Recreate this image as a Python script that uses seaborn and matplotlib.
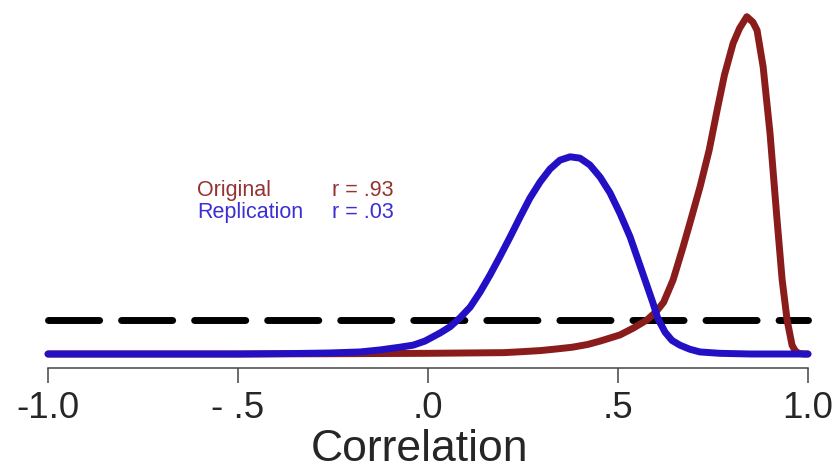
import pandas as pd
import seaborn as sns
import matplotlib.pyplot as plt

# === Curves (correlation vs density) ===
orig_r = [-1.0, -0.5, -0.2, 0.0, 0.1, 0.2, 0.25, 0.295, 0.34, 0.38, 0.42, 0.453, 0.505,
          0.54, 0.576, 0.60, 0.62, 0.645, 0.671, 0.69, 0.716, 0.74, 0.761, 0.78, 0.803,
          0.82, 0.839, 0.855, 0.866, 0.882, 0.90, 0.918, 0.932, 0.945, 0.958, 0.966,
          0.975, 0.99, 1.0]
orig_dens = [0.0, 0.0, 0.005, 0.01, 0.015, 0.02, 0.035, 0.05, 0.075, 0.10, 0.14, 0.19, 0.28,
             0.38, 0.50, 0.62, 0.76, 1.09, 1.57, 1.94, 2.46, 3.00, 3.59, 4.10, 4.57,
             4.79, 4.96, 4.88, 4.76, 4.22, 3.25, 2.01, 1.09, 0.50, 0.13, 0.05,
             0.01, 0.0, 0.0]

repl_r = [-1.0, -0.5, -0.34, -0.26, -0.179, -0.126, -0.074, -0.039, -0.008, 0.032,
          0.058, 0.084, 0.111, 0.137, 0.163, 0.189, 0.216, 0.242, 0.268, 0.295,
          0.321, 0.347, 0.374, 0.40, 0.426, 0.453, 0.479, 0.505, 0.532, 0.558,
          0.571, 0.592, 0.605, 0.624, 0.642, 0.663, 0.689, 0.716, 0.768, 0.85, 1.0]
repl_dens = [0.0, 0.0, 0.008, 0.015, 0.03, 0.06, 0.10, 0.13, 0.19, 0.31,
             0.40, 0.53, 0.69, 0.91, 1.16, 1.43, 1.72, 2.01, 2.29, 2.53,
             2.72, 2.85, 2.90, 2.88, 2.78, 2.60, 2.37, 2.07, 1.72, 1.30,
             1.09, 0.75, 0.52, 0.32, 0.20, 0.13, 0.07, 0.03, 0.01, 0.0, 0.0]

prior_r = [-1.0, 1.0]
prior_dens = [0.5, 0.5]

tick_vals = [-1.0, -0.5, 0.0, 0.5, 1.0]
tick_labels = ["-1.0", "- .5", ".0", ".5", "1.0"]

RED = "#8b1c1c"
BLUE = "#2410c4"

sns.set_style("white")
plt.rcParams['font.family'] = ['Liberation Sans', 'DejaVu Sans']

fig = plt.figure(figsize=(8.39, 4.74), dpi=100)
ax = fig.add_axes([0, 106 / 474, 1, 368 / 474])

orig = pd.DataFrame({'r': orig_r, 'dens': orig_dens})
repl = pd.DataFrame({'r': repl_r, 'dens': repl_dens})
prior = pd.DataFrame({'r': prior_r, 'dens': prior_dens})

sns.lineplot(data=prior, x='r', y='dens', ax=ax, color='black', lw=5,
             linestyle=(0, (7.36, 3.16)), estimator=None)
ax.lines[-1].set_dash_capstyle('round')
for df, col in [(orig, RED), (repl, BLUE)]:
    sns.lineplot(data=df, x='r', y='dens', ax=ax, color=col, lw=5, estimator=None)
    ax.lines[-1].set_solid_capstyle('round')
    ax.lines[-1].set_solid_joinstyle('round')

ax.set_xlim(-1 - 48 / 380, -1 - 48 / 380 + 839 / 380)
ax.set_ylim(-14 / 68, 354 / 68)

for s in ['top', 'right', 'left']:
    ax.spines[s].set_visible(False)
ax.spines['bottom'].set_bounds(-1, 1)
ax.spines['bottom'].set_color('#444444')
ax.spines['bottom'].set_linewidth(1.1)

ax.set_yticks([])
ax.set_xticks(tick_vals)
ax.set_xticklabels(tick_labels)
ax.tick_params(axis='x', direction='out', length=10.8, width=1.1, color='#444444',
               labelsize=26.5, pad=6, bottom=True)
ax.set_xlabel("Correlation", fontsize=32, labelpad=2)
ax.set_ylabel("")

fig.text(197 / 839, 1 - 196 / 474, "Original", color="#963232", fontsize=15.5, va='baseline')
fig.text(332 / 839, 1 - 196 / 474, "r = .93", color="#963232", fontsize=15.5, va='baseline')
fig.text(197 / 839, 1 - 218 / 474, "Replication", color="#3b2fd4", fontsize=15.5, va='baseline')
fig.text(332 / 839, 1 - 218 / 474, "r = .03", color="#3b2fd4", fontsize=15.5, va='baseline')

fig.savefig("out.png", dpi=100)
